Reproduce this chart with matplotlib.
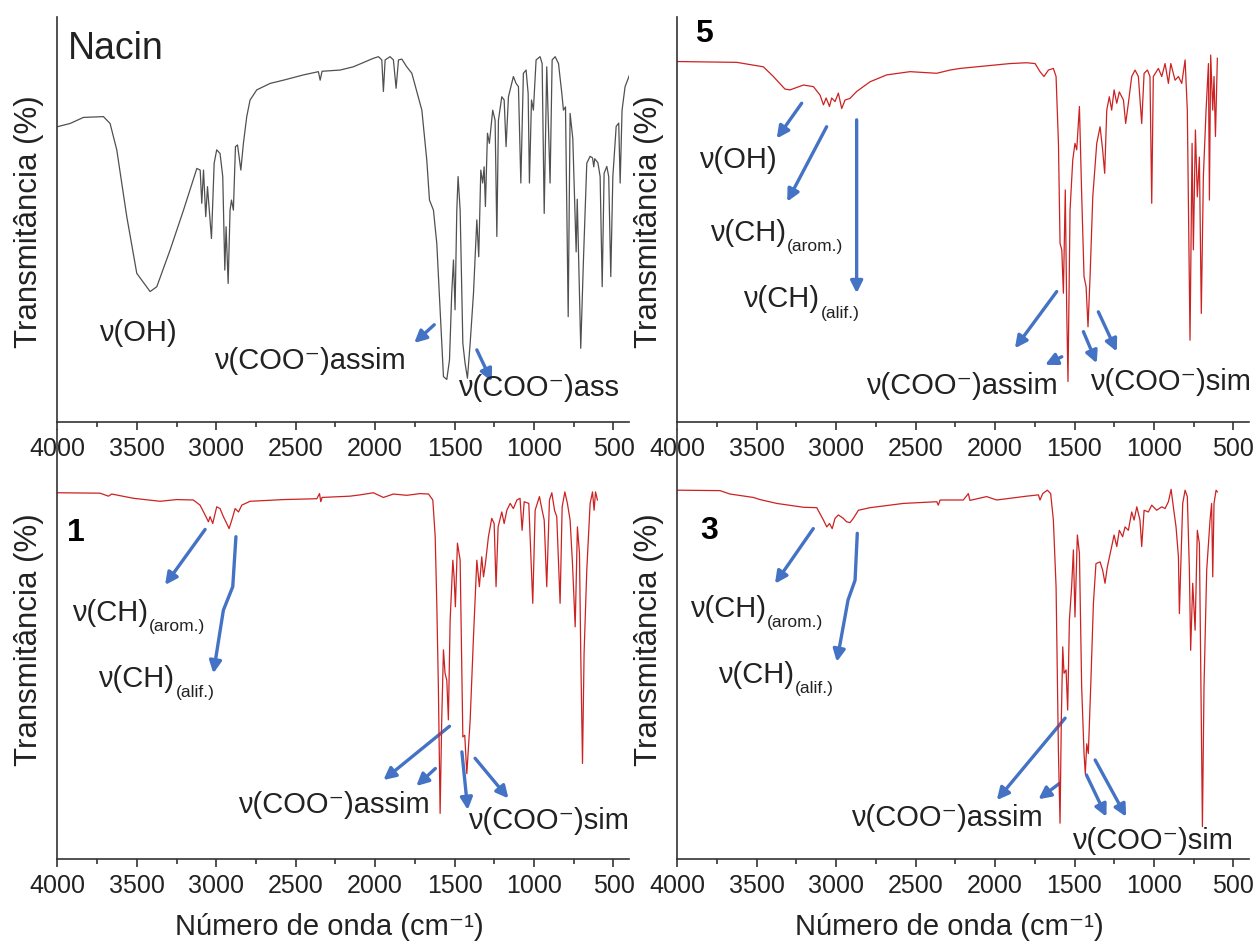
import matplotlib.pyplot as plt
from matplotlib.ticker import MultipleLocator
from matplotlib.patches import FancyArrowPatch
from matplotlib.path import Path

plt.rcParams['font.family'] = ['Liberation Sans', 'DejaVu Sans']

# ---- spectra (wavenumber cm-1, transmittance in % of panel height)
nacin_wn = [4000, 3920, 3836, 3710, 3668, 3626, 3563, 3500, 3416, 3374, 3290, 3206, 3122, 3101,
            3091, 3080, 3066, 3055, 3030, 3013, 2997, 2976, 2959, 2946, 2938, 2925, 2913, 2904,
            2892, 2879, 2866, 2845, 2829, 2808, 2787, 2745, 2661, 2577, 2451, 2357, 2346, 2334,
            2220, 2137, 2011, 1979, 1958, 1948, 1937, 1906, 1885, 1868, 1853, 1832, 1801, 1769,
            1738, 1706, 1675, 1658, 1633, 1612, 1591, 1570, 1549, 1532, 1518, 1507, 1497, 1486,
            1478, 1465, 1448, 1434, 1419, 1402, 1381, 1360, 1348, 1335, 1323, 1314, 1306, 1293,
            1281, 1260, 1245, 1234, 1224, 1203, 1188, 1176, 1161, 1130, 1113, 1098, 1083, 1067,
            1050, 1037, 1029, 1016, 1004, 987, 962, 949, 936, 920, 899, 886, 867, 846, 825, 815,
            802, 785, 773, 756, 735, 728, 706, 689, 668, 647, 632, 624, 618, 598, 584, 571, 559,
            542, 530, 517, 504, 483, 467, 458, 446, 427, 399]
nacin_t = [72.9, 73.7, 75.2, 75.4, 73.7, 67.2, 50.7, 36.7, 32.2, 33.4, 42.5, 52.3, 62.6, 62.2,
           54.0, 62.2, 50.7, 58.1, 45.3, 63.9, 67.2, 66.3, 60.6, 37.5, 48.2, 34.2, 52.3, 54.8,
           52.3, 68.0, 68.4, 62.2, 68.8, 75.4, 79.5, 82.0, 83.6, 84.4, 85.7, 86.5, 84.4, 86.6,
           86.9, 87.7, 89.8, 90.2, 89.4, 81.6, 89.4, 90.2, 89.4, 82.4, 89.4, 89.6, 87.7, 86.1,
           81.6, 77.0, 64.7, 54.8, 52.3, 44.1, 27.7, 11.2, 10.5, 15.3, 31.8, 40.0, 27.7, 52.3,
           60.6, 52.3, 19.4, 14.5, 10.8, 19.4, 31.8, 49.9, 40.8, 62.2, 59.0, 63.0, 53.2, 71.3,
           68.8, 77.0, 74.5, 45.8, 74.5, 80.3, 79.5, 68.0, 80.3, 85.3, 83.6, 82.8, 59.0, 86.1,
           86.9, 81.1, 59.0, 79.5, 77.0, 89.4, 90.2, 88.5, 51.5, 87.7, 59.0, 89.4, 90.2, 88.5,
           81.1, 77.0, 77.8, 26.0, 76.2, 70.0, 42.0, 55.0, 18.2, 40.0, 63.9, 65.6, 65.2, 63.0,
           65.0, 64.0, 60.6, 33.4, 61.4, 63.1, 60.6, 35.9, 60.6, 73.0, 73.8, 59.0, 77.0, 82.8, 85.7]

s5_wn = [4000, 3626, 3458, 3395, 3322, 3290, 3206, 3143, 3101, 3080, 3063, 3042, 3028, 3007,
         2986, 2965, 2944, 2913, 2871, 2787, 2682, 2535, 2367, 2283, 2220, 2011, 1906, 1801,
         1748, 1717, 1692, 1664, 1633, 1616, 1601, 1591, 1580, 1570, 1558, 1549, 1541, 1528,
         1511, 1497, 1486, 1469, 1455, 1440, 1427, 1415, 1402, 1385, 1360, 1339, 1323, 1310,
         1297, 1281, 1266, 1251, 1234, 1218, 1192, 1178, 1161, 1140, 1119, 1098, 1077, 1062,
         1041, 1025, 1014, 1004, 972, 951, 930, 909, 894, 867, 846, 825, 804, 790, 773, 760,
         752, 739, 727, 714, 702, 689, 672, 657, 651, 643, 630, 622, 613, 601]
s5_t = [89.0, 88.8, 87.7, 85.3, 82.2, 82.0, 83.2, 82.8, 80.7, 78.3, 80.0, 77.9, 80.0, 79.1,
        81.2, 77.4, 79.5, 79.9, 81.6, 84.0, 85.7, 86.5, 86.1, 86.9, 87.3, 88.1, 88.5, 88.7,
        88.5, 86.5, 85.3, 86.9, 87.3, 85.3, 68.8, 44.1, 42.5, 31.8, 57.3, 27.7, 10.0, 52.3,
        64.7, 68.8, 67.2, 77.9, 56.4, 35.9, 33.4, 23.5, 35.9, 55.6, 68.8, 72.9, 67.2, 61.4,
        77.0, 80.3, 77.0, 82.0, 78.7, 81.5, 79.5, 73.7, 78.7, 85.3, 86.9, 85.3, 73.7, 86.1,
        86.9, 85.3, 54.0, 85.3, 87.3, 85.3, 88.5, 83.6, 88.5, 84.4, 85.3, 83.6, 89.4, 77.0,
        20.2, 68.8, 42.5, 72.1, 55.6, 65.4, 26.8, 60.6, 77.0, 88.5, 54.8, 90.6, 77.0, 85.3,
        70.5, 89.8]

s1_wn = [4000, 3731, 3678, 3658, 3521, 3353, 3249, 3144, 3102, 3070, 3049, 3039, 3022, 2997,
         2976, 2955, 2934, 2919, 2902, 2881, 2860, 2839, 2787, 2577, 2367, 2350, 2342, 2334,
         2158, 2095, 2011, 1948, 1885, 1801, 1717, 1664, 1637, 1622, 1612, 1602, 1591, 1581,
         1570, 1560, 1549, 1539, 1528, 1511, 1503, 1495, 1482, 1465, 1448, 1436, 1423, 1402,
         1381, 1360, 1344, 1329, 1318, 1306, 1287, 1266, 1251, 1239, 1226, 1203, 1188, 1171,
         1150, 1130, 1108, 1088, 1075, 1062, 1033, 1008, 993, 966, 949, 936, 920, 903, 888,
         871, 857, 836, 823, 806, 790, 773, 758, 741, 727, 714, 706, 695, 685, 668, 647, 632,
         622, 613, 601]
s1_t = [85.8, 85.7, 85.0, 85.5, 84.5, 83.8, 84.2, 84.1, 82.9, 80.6, 79.0, 80.2, 78.6, 82.5,
        82.1, 80.2, 78.6, 77.4, 79.4, 82.1, 81.3, 82.9, 83.8, 84.2, 84.4, 85.6, 83.7, 84.7,
        85.0, 85.3, 85.8, 84.7, 85.5, 85.2, 85.6, 85.5, 84.1, 75.5, 59.9, 40.3, 10.7, 32.5,
        49.0, 43.5, 41.9, 32.6, 55.9, 70.0, 66.1, 59.1, 74.0, 70.0, 28.6, 29.0, 20.0, 32.5,
        52.1, 70.0, 63.8, 70.8, 66.1, 69.2, 75.5, 79.8, 78.6, 63.8, 77.8, 81.3, 78.6, 81.7,
        83.3, 82.1, 84.1, 84.5, 77.0, 83.7, 83.3, 59.9, 81.7, 84.9, 81.7, 79.4, 63.8, 84.1, 85.8,
        81.7, 80.2, 59.9, 82.5, 86.0, 83.3, 79.4, 69.2, 54.4, 77.8, 71.6, 48.2, 22.4, 48.2, 67.7,
        83.3, 86.0, 81.7, 86.0, 84.1]

s3_wn = [4000, 3731, 3668, 3521, 3479, 3374, 3206, 3122, 3080, 3059, 3042, 3025, 3007, 2986,
         2955, 2934, 2913, 2892, 2860, 2787, 2577, 2367, 2357, 2346, 2200, 2168, 2158, 2147,
         2053, 1990, 1906, 1801, 1727, 1717, 1700, 1671, 1650, 1633, 1616, 1601, 1591, 1583,
         1574, 1566, 1553, 1543, 1532, 1518, 1507, 1497, 1482, 1469, 1455, 1440, 1432, 1423,
         1413, 1398, 1381, 1365, 1339, 1323, 1308, 1293, 1266, 1251, 1234, 1218, 1197, 1182,
         1161, 1140, 1125, 1108, 1088, 1077, 1062, 1035, 1014, 983, 951, 930, 909, 892, 878,
         861, 846, 840, 830, 819, 804, 790, 777, 769, 756, 741, 727, 714, 702, 695, 685, 668,
         647, 637, 630, 622, 609, 601]
s3_t = [86.4, 86.3, 85.5, 84.7, 84.2, 83.3, 82.4, 82.3, 79.4, 77.8, 78.6, 77.4, 79.8, 80.6,
        79.8, 79.0, 78.8, 79.8, 81.7, 82.3, 83.3, 83.7, 82.9, 84.1, 84.1, 85.6, 84.0, 84.1,
        84.9, 84.1, 84.5, 85.0, 85.3, 84.1, 85.6, 86.4, 85.6, 79.4, 63.8, 24.7, 8.4, 32.5,
        49.7, 43.5, 44.3, 34.9, 56.0, 63.8, 72.4, 56.7, 75.9, 71.6, 40.4, 24.7, 20.0, 27.0,
        24.7, 40.4, 59.9, 69.2, 69.6, 67.7, 64.6, 68.5, 73.2, 75.9, 73.2, 77.0, 75.5, 77.8,
        77.0, 81.3, 79.4, 82.5, 79.4, 73.2, 81.7, 81.3, 82.9, 81.7, 82.5, 82.1, 83.7, 86.6, 82.5,
        77.8, 70.8, 57.5, 70.0, 83.3, 86.4, 84.9, 67.7, 48.9, 64.6, 53.6, 77.0, 73.9, 32.5, 7.6,
        40.4, 67.7, 79.4, 83.3, 66.1, 83.3, 86.4, 86.0]

panel_names = ['Nacin', '5', '1', '3']
xticks = [4000, 3500, 3000, 2500, 2000, 1500, 1000, 500]

blue = '#4472c4'
red = '#cc2222'
grey = '#505050'
ink = '#222222'

fig = plt.figure(figsize=(12.6, 9.44), dpi=100)
ax_1 = fig.add_axes([0.0455, 0.0900, 0.4540, 0.4545])
ax_3 = fig.add_axes([0.5375, 0.0900, 0.4540, 0.4545])
ax_n = fig.add_axes([0.0455, 0.5530, 0.4540, 0.4290])
ax_5 = fig.add_axes([0.5375, 0.5530, 0.4540, 0.4290])


def style(ax, ymax, xlabel=False):
    ax.set_facecolor('none')
    ax.set_xlim(4000, 400)
    ax.set_ylim(0, ymax)
    for s in ['top', 'right']:
        ax.spines[s].set_visible(False)
    for s in ['left', 'bottom']:
        ax.spines[s].set_linewidth(1.2)
        ax.spines[s].set_color('#333333')
    ax.set_yticks([])
    ax.set_xticks(xticks)
    ax.xaxis.set_minor_locator(MultipleLocator(250))
    ax.tick_params(axis='x', which='major', direction='out', length=6, width=1.2,
                   labelsize=18, pad=5, color='#333333', labelcolor=ink)
    ax.tick_params(axis='x', which='minor', direction='out', length=3.5, width=1.2,
                   color='#333333')
    if xlabel:
        ax.set_xlabel('Número de onda (cm⁻¹)', fontsize=21, labelpad=3, color=ink)
        ax.xaxis.set_label_coords(0.475, -0.125)


def arrow(ax, p0, p1):
    ax.add_patch(FancyArrowPatch(p0, p1, arrowstyle='-|>', mutation_scale=18, lw=2.4,
                                 color=blue, shrinkA=0, shrinkB=0))


def bent_arrow(ax, pts):
    ax.add_patch(FancyArrowPatch(path=Path(pts), arrowstyle='-|>', mutation_scale=18,
                                 lw=2.4, color=blue, transform=ax.transData))


def lab(ax, x, y, s, ha='left', size=21):
    return ax.text(x, y, s, ha=ha, va='baseline', fontsize=size, color=ink)


def ch_lab(ax, x, y, sub):
    t = lab(ax, x, y, 'ν(CH)')
    ax.annotate(sub, xy=(1, 0), xycoords=t, xytext=(1, 0), textcoords='offset points',
                ha='left', va='center', fontsize=12.5, color=ink)


coo_as = 'ν(COO⁻)assim'
coo_s = 'ν(COO⁻)sim'

# Nacin
ax_n.plot(nacin_wn, nacin_t, color=grey, lw=0.9)
style(ax_n, 100)
ax_n.text(3935, 92, panel_names[0], fontsize=27, ha='left', va='center', color=ink)
lab(ax_n, 3492, 19.9, 'ν(OH)', ha='center')
lab(ax_n, 1810, 13.2, coo_as, ha='right')
lab(ax_n, 1478, 6.3, 'ν(COO⁻)ass')
arrow(ax_n, (1628, 24.0), (1754, 19.5))
arrow(ax_n, (1360, 17.8), (1266, 10.0))

# 5
ax_5.plot(s5_wn, s5_t, color=red, lw=0.9)
style(ax_5, 100)
ax_5.text(3889, 95.8, panel_names[1], fontsize=23, fontweight='bold', ha='left', va='center')
lab(ax_5, 3616, 62.8, 'ν(OH)', ha='center')
ch_lab(ax_5, 3794, 44.8, '(arom.)')
ch_lab(ax_5, 3586, 28.3, '(alif.)')
lab(ax_5, 1604, 7.0, coo_as, ha='right')
lab(ax_5, 1403, 7.8, coo_s)
arrow(ax_5, (3217, 78.7), (3374, 70.0))
arrow(ax_5, (3060, 72.9), (3308, 54.4))
arrow(ax_5, (2871, 74.6), (2871, 31.8))
arrow(ax_5, (1612, 32.2), (1875, 18.2))
arrow(ax_5, (1580, 16.1), (1685, 14.1))
arrow(ax_5, (1444, 22.3), (1360, 14.5))
arrow(ax_5, (1350, 27.2), (1234, 17.4))

# 1
ax_1.plot(s1_wn, s1_t, color=red, lw=0.9)
style(ax_1, 100.5, xlabel=True)
ax_1.text(3938, 76.3, panel_names[2], fontsize=23, fontweight='bold', ha='left', va='center')
ch_lab(ax_1, 3909, 55.8, '(arom.)')
ch_lab(ax_1, 3744, 40.4, '(alif.)')
lab(ax_1, 1655, 10.9, coo_as, ha='right')
lab(ax_1, 1415, 7.1, coo_s)
arrow(ax_1, (3070, 77.2), (3322, 64.2))
bent_arrow(ax_1, [(2876, 75.5), (2896, 63.8), (2955, 58.3), (3018, 43.5)])
arrow(ax_1, (1532, 31.1), (1948, 18.5))
arrow(ax_1, (1621, 21.2), (1741, 17.1))
arrow(ax_1, (1454, 25.1), (1417, 11.5))
arrow(ax_1, (1371, 23.6), (1161, 14.2))

# 3
ax_3.plot(s3_wn, s3_t, color=red, lw=0.9)
style(ax_3, 100.5, xlabel=True)
ax_3.text(3858, 76.8, panel_names[3], fontsize=23, fontweight='bold', ha='left', va='center')
ch_lab(ax_3, 3922, 56.8, '(arom.)')
ch_lab(ax_3, 3744, 41.3, '(alif.)')
lab(ax_3, 1700, 7.8, coo_as, ha='right')
lab(ax_3, 1516, 2.4, coo_s)
arrow(ax_3, (3144, 77.4), (3385, 64.5))
bent_arrow(ax_3, [(2867, 76.3), (2881, 65.3), (2925, 60.7), (2996, 46.2)])
arrow(ax_3, (1559, 33.0), (1989, 13.8))
arrow(ax_3, (1595, 17.7), (1727, 14.0))
arrow(ax_3, (1425, 19.7), (1299, 9.9))
arrow(ax_3, (1370, 23.2), (1175, 9.9))

# y labels
for x, y in [(0.023, 0.765), (0.515, 0.765), (0.023, 0.322), (0.515, 0.322)]:
    fig.text(x, y, 'Transmitância (%)', rotation=90, ha='center', va='center',
             fontsize=22.5, color=ink)

fig.savefig('out.png', dpi=100)
